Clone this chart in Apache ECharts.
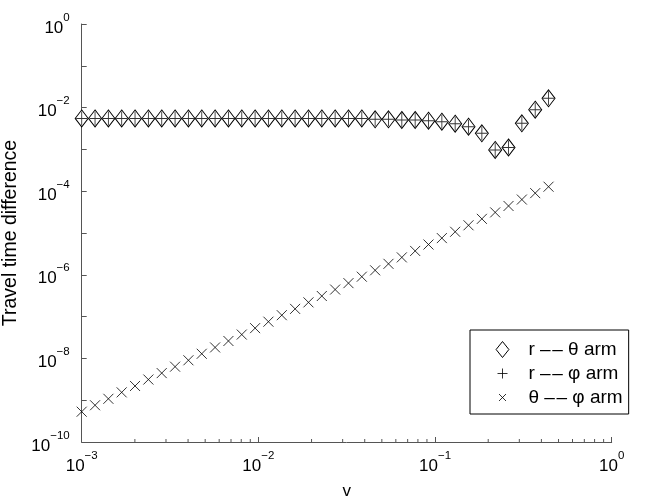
<!DOCTYPE html>
<html>
<head>
<meta charset="utf-8">
<script src="https://cdn.jsdelivr.net/npm/echarts@6/dist/echarts.min.js"></script>
<style>html,body{margin:0;padding:0;background:#fff}#c{width:654px;height:499px}</style>
</head>
<body>
<div id="c"></div>
<script>
const vValues = [0.001, 0.00119, 0.001416, 0.001684, 0.002004, 0.002385, 0.002838, 0.003377, 0.004018, 0.004781,
  0.005689, 0.00677, 0.008054, 0.009583, 0.0114, 0.01357, 0.01614, 0.01921, 0.02286, 0.0272,
  0.03236, 0.0385, 0.04581, 0.05451, 0.06486, 0.07718, 0.09183, 0.1093, 0.13, 0.1547,
  0.1841, 0.219, 0.2606, 0.3101, 0.369, 0.439];
const rThetaArm = [0.0055, 0.0055, 0.0055, 0.0055, 0.0055, 0.0055, 0.0055, 0.0055, 0.0055, 0.0055,
  0.0055, 0.0055, 0.0055, 0.0055, 0.0055, 0.0055, 0.0055, 0.0055, 0.0055, 0.0055,
  0.0055, 0.0055, 0.00525, 0.00525, 0.00505, 0.00505, 0.00486, 0.0046, 0.00412, 0.00349,
  0.00243, 0.00097, 0.00111, 0.00421, 0.0089, 0.0167];
const rPhiArm = [0.0055, 0.0055, 0.0055, 0.0055, 0.0055, 0.0055, 0.0055, 0.0055, 0.0055, 0.0055,
  0.0055, 0.0055, 0.0055, 0.0055, 0.0055, 0.0055, 0.0055, 0.0055, 0.0055, 0.0055,
  0.0055, 0.0055, 0.00525, 0.00525, 0.00505, 0.00505, 0.00486, 0.0046, 0.00412, 0.00349,
  0.00243, 0.00097, 0.00111, 0.00421, 0.0089, 0.0167];
const thetaPhiArm = [5.31e-10, 7.57e-10, 1.08e-9, 1.54e-9, 2.19e-9, 3.12e-9, 4.45e-9, 6.34e-9, 9.02e-9, 1.29e-8,
  1.83e-8, 2.61e-8, 3.72e-8, 5.30e-8, 7.55e-8, 1.08e-7, 1.53e-7, 2.19e-7, 3.11e-7, 4.44e-7,
  6.32e-7, 9.01e-7, 1.28e-6, 1.83e-6, 2.61e-6, 3.72e-6, 5.30e-6, 7.55e-6, 1.07e-5, 1.53e-5,
  2.18e-5, 3.11e-5, 4.43e-5, 6.31e-5, 8.99e-5, 1.28e-4];
const seriesNames = ['r \u2013\u200a\u2013 \u03b8 arm', 'r \u2013\u200a\u2013 \u03c6 arm', '\u03b8 \u2013\u200a\u2013 \u03c6 arm'];
const xMinorTicks = [0.002, 0.003, 0.004, 0.005, 0.006, 0.007, 0.008, 0.009,
  0.02, 0.03, 0.04, 0.05, 0.06, 0.07, 0.08, 0.09,
  0.2, 0.3, 0.4, 0.5, 0.6, 0.7, 0.8, 0.9];
const xRange = [1e-3, 1];
const yRange = [1e-10, 1];

const FONT = "'Liberation Sans', Helvetica, Arial, sans-serif";
const AXIS_COLOR = '#555';
const PLUS = 'path://M5,0L5,10M0,5L10,5';
const CROSS = 'path://M0,0L10,10M10,0L0,10';
// legend icons: same glyphs drawn smaller inside a padded box
const PLUS_ICON = 'path://M0,0M8,3L8,13M3,8L13,8M16,16';
const CROSS_ICON = 'path://M0,0M4.5,4.5L11.5,11.5M11.5,4.5L4.5,11.5M16,16';
const DIAMOND_ICON = 'path://M8,0.5L14,8L8,15.5L2,8Z';

function expLabel(v) {
  const e = Math.round(Math.log10(v));
  const s = (e < 0 ? '\u2212' + (-e) : '' + e);
  return '{b|10}{s|' + s + '}';
}
const rich = {
  b: { fontSize: 17, fontFamily: FONT, color: '#000', lineHeight: 25, verticalAlign: 'bottom' },
  s: { fontSize: 11.5, fontFamily: FONT, color: '#000', lineHeight: 12, verticalAlign: 'top' }
};

const pairs = (ys) => vValues.map((x, i) => [x, ys[i]]);

const chart = echarts.init(document.getElementById('c'), null, { renderer: 'canvas' });
chart.setOption({
  backgroundColor: '#fff',
  animation: false,
  textStyle: { fontFamily: FONT },
  grid: { left: 81.7, right: 42.3, top: 24, bottom: 57, containLabel: false, outerBoundsMode: 'none' },
  xAxis: {
    type: 'log', logBase: 10, min: xRange[0], max: xRange[1],
    name: 'v', nameLocation: 'middle', nameGap: 41,
    nameTextStyle: { fontSize: 17, color: '#000', fontFamily: FONT },
    axisLine: { show: true, lineStyle: { color: AXIS_COLOR, width: 1 } },
    axisTick: { show: true, inside: true, length: 5, lineStyle: { color: AXIS_COLOR } },
    splitLine: { show: false },
    axisLabel: { margin: 8, formatter: expLabel, rich: rich }
  },
  yAxis: {
    type: 'log', logBase: 10, min: yRange[0], max: yRange[1], interval: 1,
    name: 'Travel time difference', nameLocation: 'middle', nameGap: 55,
    nameTextStyle: { fontSize: 19.5, color: '#000', fontFamily: FONT },
    axisLine: { show: true, lineStyle: { color: AXIS_COLOR, width: 1 } },
    axisTick: { show: true, inside: true, length: 5, interval: 0, lineStyle: { color: AXIS_COLOR } },
    splitLine: { show: false },
    axisLabel: {
      margin: 12, showMinLabel: true, showMaxLabel: true,
      formatter: function (v) {
        const e = Math.round(Math.log10(v));
        return (e % 2 === 0) ? expLabel(v) : '';
      },
      rich: rich
    }
  },
  legend: {
    orient: 'vertical', left: 470, top: 330,
    padding: [9, 6, 6, 22],
    itemGap: 3, itemWidth: 16, itemHeight: 16,
    borderColor: '#000', borderWidth: 1, backgroundColor: '#fff',
    textStyle: { fontSize: 19, color: '#000', fontFamily: FONT, padding: [0, 0, 0, 13] },
    data: [
      { name: seriesNames[0], icon: DIAMOND_ICON, itemStyle: { color: 'none', borderColor: '#000', borderWidth: 1 } },
      { name: seriesNames[1], icon: PLUS_ICON, itemStyle: { color: 'none', borderColor: '#000', borderWidth: 1 } },
      { name: seriesNames[2], icon: CROSS_ICON, itemStyle: { color: 'none', borderColor: '#000', borderWidth: 1 } }
    ]
  },
  series: [
    {
      name: seriesNames[0], type: 'scatter', data: pairs(rThetaArm),
      symbol: 'diamond', symbolSize: [13, 17],
      itemStyle: { color: '#fff', borderColor: '#000', borderWidth: 1, opacity: 1 }, z: 3
    },
    {
      name: seriesNames[1], type: 'scatter', data: pairs(rPhiArm),
      symbol: PLUS, symbolSize: [11, 14],
      itemStyle: { color: 'none', borderColor: '#000', borderWidth: 1 }, z: 4
    },
    {
      name: seriesNames[2], type: 'scatter', data: pairs(thetaPhiArm),
      symbol: CROSS, symbolSize: 10,
      itemStyle: { color: 'none', borderColor: '#000', borderWidth: 1 }, z: 4
    },
    {
      type: 'custom', silent: true, z: 2, clip: false,
      data: xMinorTicks.map(v => [v, yRange[0]]),
      renderItem: function (params, api) {
        const p = api.coord([api.value(0), api.value(1)]);
        return {
          type: 'line',
          shape: { x1: p[0], y1: p[1], x2: p[0], y2: p[1] - 3 },
          style: { stroke: AXIS_COLOR, lineWidth: 1 }
        };
      }
    }
  ]
});
</script>
</body>
</html>
